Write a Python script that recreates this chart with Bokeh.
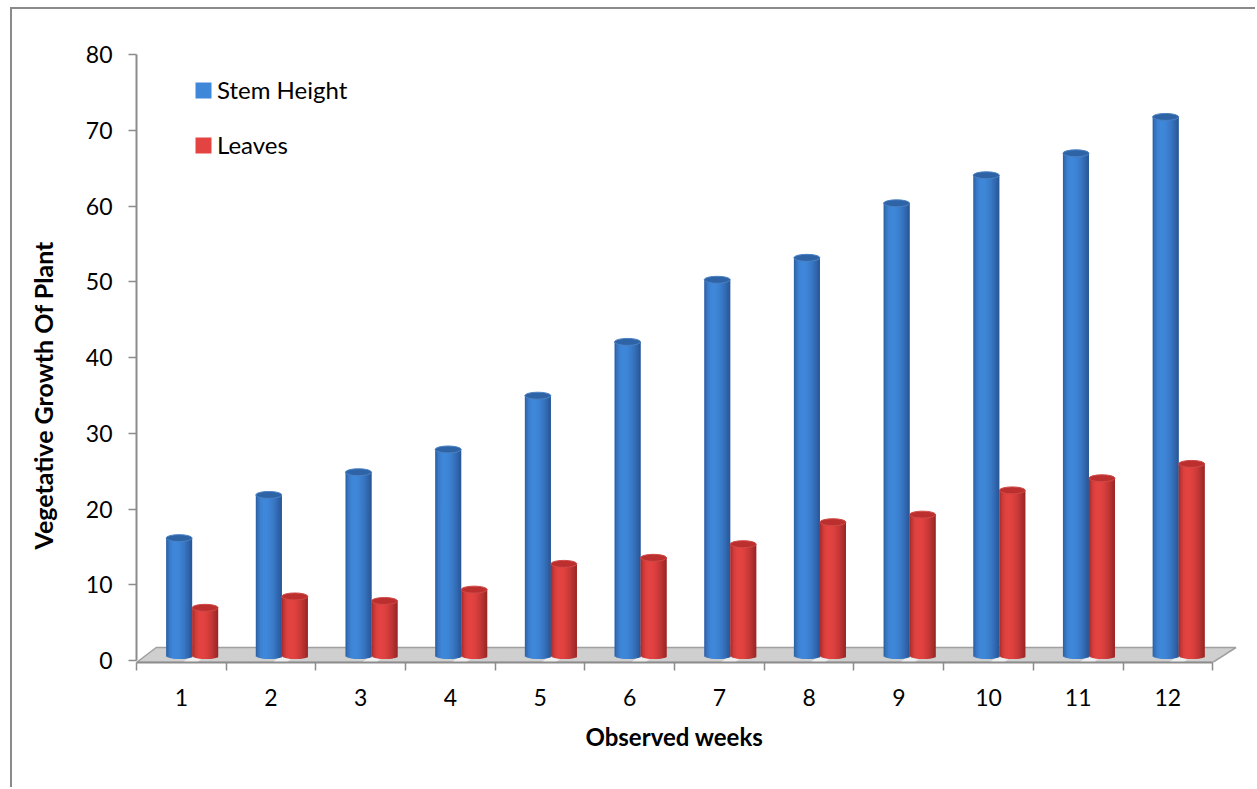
import math
from bokeh.plotting import figure
from bokeh.models import (Range1d, FixedTicker, ColumnDataSource, Legend, LegendItem,
                          Title)
from bokeh.embed import file_html
from bokeh.resources import INLINE

# ---------------- data ----------------
weeks = ["1", "2", "3", "4", "5", "6", "7", "8", "9", "10", "11", "12"]
stem_height = [15.5, 21.2, 24.2, 27.2, 34.3, 41.4, 49.6, 52.5, 59.7, 63.4, 66.3, 71.1]
leaves = [6.3, 7.8, 7.2, 8.7, 12.1, 12.9, 14.7, 17.6, 18.6, 21.8, 23.4, 25.3]
y_ticks = [0, 10, 20, 30, 40, 50, 60, 70, 80]
series_names = ["Stem Height", "Leaves"]
x_title = "Observed weeks"
y_title = "Vegetative Growth Of Plant"

# ---------------- style ----------------
FONT = "Lato"
AXIS_GREY = "#8c8c8c"
N_STRIPS = 18
BAR_W = 0.29
OFFSETS = [-0.025, 0.265]
BASE = 0.66           # cylinder base height above 0 (3-D floor)
HB = 0.46             # half height of the end ellipses (data units)
DARK = [(38, 78, 140), (140, 34, 34)]
LIGHT = [(64, 136, 218), (228, 68, 66)]
TOPC = ["#2e63a6", "#bb302e"]
TOPL = ["#4a82c6", "#d04846"]

p = figure(width=1255, height=787, output_backend="svg", toolbar_location=None,
           x_range=Range1d(0.5, 12.81), y_range=Range1d(-0.26, 80),
           min_border_left=136, min_border_top=54, min_border_bottom=125,
           min_border_right=15)
p.outline_line_color = None
p.grid.visible = False
p.background_fill_color = "white"
p.border_fill_color = None
# chart-area border (left and top edges), drawn behind the transparent canvas border
p.styles = {
    "background-color": "white",
    "background-image": "linear-gradient(#8a8a8a, #8a8a8a), linear-gradient(#8a8a8a, #8a8a8a)",
    "background-size": "2px 100%, 100% 2px",
    "background-position": "10px 7px, 10px 7px",
    "background-repeat": "no-repeat",
}

# floor (3-D base plate)
n = len(weeks)
fx = [0.5, n + 0.5, n + 0.5 + 0.26, 0.5 + 0.22]
fy = [-0.26, -0.26, 1.72, 1.72]
p.patch(fx, fy, fill_color="#cfcfcf", line_color="#a0a0a0", line_width=1.5)
for i in range(n):
    c = i + 1.02
    p.patch([c, c + 0.16, c + 0.36, c + 0.20], [-0.2, -0.2, 1.66, 1.66],
            fill_color="#f4f4f4", line_color=None, fill_alpha=0.85)


def shade(s, t):
    if t < 0.33:
        f = math.sin(math.pi / 2 * t / 0.33) ** 0.6
    else:
        f = math.cos(math.pi / 2 * (t - 0.33) / 0.67) ** 0.9
    f = 0.1 + 0.9 * f
    d, l = DARK[s], LIGHT[s]
    r, g, b = (int(d[j] + (l[j] - d[j]) * f) for j in range(3))
    return "#%02x%02x%02x" % (r, g, b)


renderers = []
for s, vals in enumerate([stem_height, leaves]):
    xs, tops, bots, cols, ws = [], [], [], [], []
    ex, ey = [], []
    sw = BAR_W / N_STRIPS
    for i, v in enumerate(vals):
        xc = i + 1 + OFFSETS[s]
        left_edge = xc - BAR_W / 2
        right_edge = xc + BAR_W / 2
        for k in range(N_STRIPS):
            u = (k + 0.5) / N_STRIPS
            l0 = left_edge + k * sw
            r0 = min(l0 + 2.0 * sw, right_edge)
            xs.append((l0 + r0) / 2)
            ws.append(r0 - l0)
            tops.append(BASE + v)
            bots.append(BASE - HB * math.sqrt(max(0.0, 1 - (2 * u - 1) ** 2)))
            cols.append(shade(s, u))
        ex.append(xc)
        ey.append(BASE + v)
    src = ColumnDataSource(dict(x=xs, top=tops, bottom=bots, color=cols, w=ws))
    r = p.vbar(x="x", top="top", bottom="bottom", width="w", source=src,
               fill_color="color", line_color=None)
    renderers.append(r)
    p.ellipse(x=ex, y=ey, width=BAR_W, height=2 * HB, fill_color=TOPC[s],
              line_color=TOPL[s], line_width=1)

# axes
xa = p.xaxis[0]
xa.ticker = FixedTicker(ticks=[i + 1 for i in range(n)],
                        minor_ticks=[i + 0.5 for i in range(n + 1)])
xa.major_label_overrides = {i + 1: w for i, w in enumerate(weeks)}
xa.bounds = (0.5, n + 0.5)
xa.major_tick_in = 0
xa.major_tick_out = 0
xa.major_tick_line_color = None
xa.minor_tick_in = 0
xa.minor_tick_out = 8
xa.minor_tick_line_color = AXIS_GREY
xa.minor_tick_line_width = 1.5
xa.axis_line_color = AXIS_GREY
xa.axis_line_width = 2
xa.major_label_standoff = 18
xa.major_label_text_font = FONT
xa.major_label_text_font_size = "23px"
xa.major_label_text_color = "black"

ya = p.yaxis[0]
ya.ticker = FixedTicker(ticks=y_ticks, minor_ticks=[])
ya.bounds = (0, 80)
ya.major_tick_in = 0
ya.major_tick_out = 8
ya.major_tick_line_color = AXIS_GREY
ya.major_tick_line_width = 1.5
ya.axis_line_color = AXIS_GREY
ya.axis_line_width = 2
ya.major_label_standoff = 16
ya.major_label_text_font = FONT
ya.major_label_text_font_size = "23px"
ya.major_label_text_color = "black"

# axis titles (positioned like the original, off-centre from the frame)
xt = Title(text=x_title, align="left", offset=449, text_font=FONT,
           text_font_style="bold", text_font_size="24px", text_color="black",
           standoff=23)
p.add_layout(xt, "below")
yt = Title(text=y_title, align="left", offset=113, text_font=FONT,
           text_font_style="bold", text_font_size="25px", text_color="black",
           standoff=50)
p.add_layout(yt, "left")

legend = Legend(items=[LegendItem(label=series_names[s], renderers=[renderers[s]],
                                  index=6) for s in range(2)],
                location=(57, 503), orientation="vertical")
legend.glyph_width = 20
legend.glyph_height = 20
legend.label_height = 20
legend.spacing = 26
legend.padding = 0
legend.margin = 0
legend.label_standoff = 4
legend.border_line_color = None
legend.background_fill_alpha = 0
legend.label_text_font = FONT
legend.label_text_font_size = "24px"
legend.label_text_color = "black"
p.add_layout(legend)

open("out.html", "w").write(file_html(p, INLINE, title="Vegetative growth"))
